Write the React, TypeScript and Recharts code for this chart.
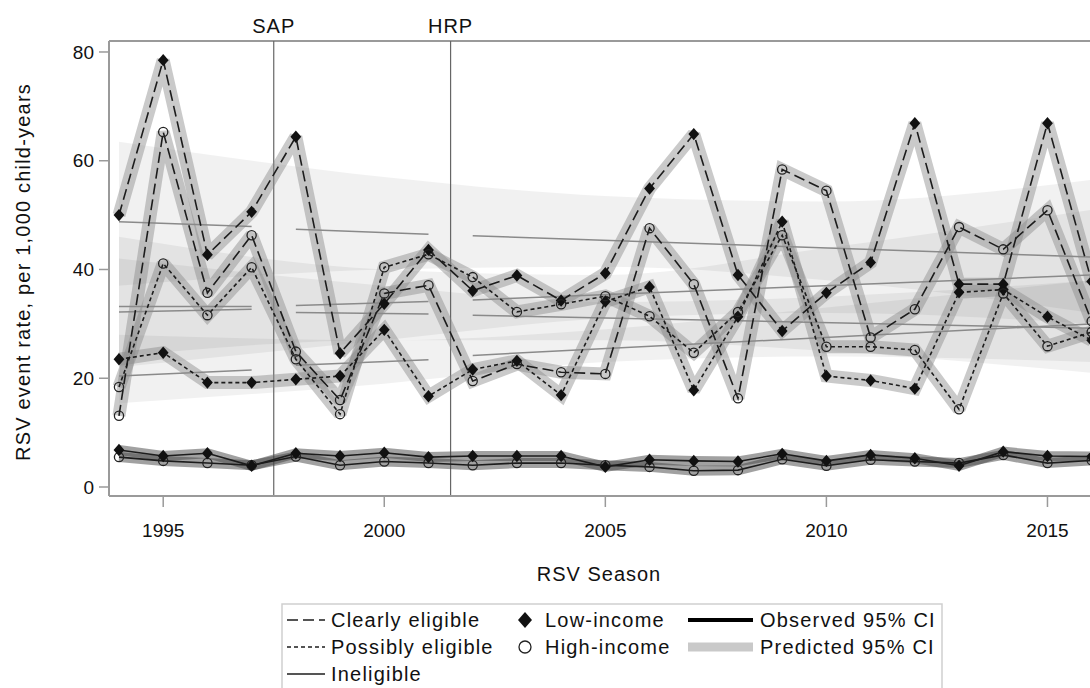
import React from 'react';
import { ComposedChart, Line, Area, XAxis, YAxis, ReferenceLine } from 'recharts';

// RSV seasons (x categories)
const seasons = [1994, 1995, 1996, 1997, 1998, 1999, 2000, 2001, 2002, 2003, 2004, 2005, 2006, 2007, 2008, 2009, 2010, 2011, 2012, 2013, 2014, 2015, 2016];

// Observed RSV event rates per 1,000 child-years
const clearlyLow = [50.0, 78.5, 42.7, 50.6, 64.4, 24.6, 33.7, 43.6, 36.1, 38.9, 34.3, 39.3, 54.9, 64.9, 39.0, 28.7, 35.7, 41.3, 66.9, 37.3, 37.3, 66.9, 37.8];
const clearlyHigh = [13.1, 65.3, 35.7, 46.3, 24.9, 16.0, 35.6, 37.1, 19.5, 22.6, 21.1, 20.8, 47.6, 37.3, 16.3, 58.4, 54.5, 27.5, 32.7, 47.8, 43.7, 50.9, 30.5];
const possiblyLow = [23.5, 24.7, 19.2, 19.2, 19.8, 20.4, 28.9, 16.7, 21.6, 23.2, 16.9, 34.1, 36.8, 17.8, 31.3, 48.8, 20.4, 19.6, 18.1, 35.8, 36.3, 31.3, 27.0];
const possiblyHigh = [18.4, 41.1, 31.6, 40.4, 23.5, 13.4, 40.4, 42.8, 38.6, 32.2, 33.6, 35.1, 31.4, 24.7, 32.2, 46.3, 25.8, 25.8, 25.2, 14.3, 35.6, 25.9, 28.5];
const ineligibleLow = [6.8, 5.7, 6.2, 3.9, 6.2, 5.7, 6.3, 5.5, 5.7, 5.7, 5.7, 3.7, 5.0, 4.8, 4.7, 6.1, 4.8, 5.9, 5.3, 3.9, 6.5, 5.7, 5.6];
const ineligibleHigh = [5.5, 4.8, 4.4, 4.0, 5.6, 4.0, 4.7, 4.4, 4.0, 4.4, 4.4, 4.0, 3.7, 3.0, 3.1, 5.1, 3.9, 5.0, 4.7, 4.4, 5.9, 4.4, 4.9];

// Predicted 95% CI envelopes (estimated at a few seasons)
const fanSeasons = [1994, 2000, 2005, 2010, 2016];
const upperFanLow = [37, 40, 40.5, 38, 32];
const upperFanHigh = [63.5, 57, 53.5, 52.5, 56.5];
const risingFanLow = [22, 27, 31, 32, 30];
const risingFanHigh = [46, 40, 39, 44, 51];
const flatFanLow = [24, 27, 27, 25, 21];
const flatFanHigh = [42, 37, 34, 35, 38];
const lowerFanLow = [15.4, 19, 23, 24, 23];
const lowerFanHigh = [28, 27, 29, 33, 38];

// Segmented predicted trends per period
const trendPeriods = [
  [1994, 1997],
  [1998, 2001],
  [2002, 2016],
];
const trendStart = [
  [48.8, 33.2, 32.2, 20.4],
  [47.4, 33.4, 32.1, 22.4],
  [46.2, 34.4, 31.6, 24.2],
];
const trendEnd = [
  [47.9, 33.2, 32.7, 21.5],
  [46.5, 34.1, 31.8, 23.4],
  [42.3, 39.0, 29.2, 30.0],
];

// Policy change markers
const policyLines = [
  { season: 1997.5, label: 'SAP' },
  { season: 2001.5, label: 'HRP' },
];

const xTicks = [1995, 2000, 2005, 2010, 2015];
const yTicks = [0, 20, 40, 60, 80];

const rows = seasons.map((year, i) => ({
  year,
  cl: clearlyLow[i],
  ch: clearlyHigh[i],
  pl: possiblyLow[i],
  ph: possiblyHigh[i],
  il: ineligibleLow[i],
  ih: ineligibleHigh[i],
}));

const makeFan = (lo: number[], hi: number[]) =>
  fanSeasons.map((year, i) => ({ year, range: [lo[i], hi[i]] }));

const fans = [
  makeFan(upperFanLow, upperFanHigh),
  makeFan(risingFanLow, risingFanHigh),
  makeFan(flatFanLow, flatFanHigh),
  makeFan(lowerFanLow, lowerFanHigh),
];

const FONT = '"Liberation Sans", Arial, sans-serif';
const INK = '#1c1c1c';
const AXIS = '#9a9a9a';

const DASH_CLEARLY = '11 5';
const DASH_POSSIBLY = '4 3';

const diamondDot = (props: any) => {
  const { cx, cy, index } = props;
  if (cx == null || cy == null) return <g key={`dd-${index}`} />;
  const h = 6.2;
  const w = 5.4;
  return (
    <path
      key={`dd-${index}`}
      d={`M${cx},${cy - h}L${cx + w},${cy}L${cx},${cy + h}L${cx - w},${cy}Z`}
      fill="#111"
    />
  );
};

const circleDot = (props: any) => {
  const { cx, cy, index } = props;
  if (cx == null || cy == null) return <g key={`cd-${index}`} />;
  return <circle key={`cd-${index}`} cx={cx} cy={cy} r={4.6} fill="none" stroke="#222" strokeWidth={1.3} />;
};

const seriesDefs = [
  { key: 'cl', dash: DASH_CLEARLY, dot: diamondDot, band: 'upper' },
  { key: 'ch', dash: DASH_CLEARLY, dot: circleDot, band: 'upper' },
  { key: 'pl', dash: DASH_POSSIBLY, dot: diamondDot, band: 'upper' },
  { key: 'ph', dash: DASH_POSSIBLY, dot: circleDot, band: 'upper' },
  { key: 'ih', dash: undefined, dot: circleDot, band: 'lower' },
  { key: 'il', dash: undefined, dot: diamondDot, band: 'lower' },
];

function Legend() {
  const rowY = [620, 647, 674];
  const txt = { fontFamily: FONT, fontSize: 20, letterSpacing: 1.2, fill: '#111' } as const;
  return (
    <svg
      width={1090}
      height={688}
      style={{ position: 'absolute', left: 0, top: 0, pointerEvents: 'none' }}
    >
      <rect x={282} y={604} width={660} height={110} fill="none" stroke="#cfcfcf" strokeWidth={1.5} />
      {/* line styles */}
      <line x1={287} x2={325} y1={rowY[0]} y2={rowY[0]} stroke={INK} strokeWidth={1.6} strokeDasharray={DASH_CLEARLY} />
      <text x={331} y={rowY[0] + 7} {...txt}>Clearly eligible</text>
      <line x1={287} x2={325} y1={rowY[1]} y2={rowY[1]} stroke={INK} strokeWidth={1.6} strokeDasharray={DASH_POSSIBLY} />
      <text x={331} y={rowY[1] + 7} {...txt}>Possibly eligible</text>
      <line x1={287} x2={325} y1={rowY[2]} y2={rowY[2]} stroke={INK} strokeWidth={1.6} />
      <text x={331} y={rowY[2] + 7} {...txt}>Ineligible</text>
      {/* income markers */}
      <path d={`M525,${rowY[0] - 8}L532,${rowY[0]}L525,${rowY[0] + 8}L518,${rowY[0]}Z`} fill="#111" />
      <text x={545} y={rowY[0] + 7} {...txt}>Low-income</text>
      <circle cx={525} cy={rowY[1]} r={6} fill="none" stroke="#222" strokeWidth={1.3} />
      <text x={545} y={rowY[1] + 7} {...txt}>High-income</text>
      {/* interval styles */}
      <line x1={688} x2={753} y1={rowY[0]} y2={rowY[0]} stroke="#000" strokeWidth={4} />
      <text x={760} y={rowY[0] + 7} {...txt}>Observed 95% CI</text>
      <line x1={688} x2={753} y1={rowY[1]} y2={rowY[1]} stroke="#c9c9c9" strokeWidth={9} />
      <text x={760} y={rowY[1] + 7} {...txt}>Predicted 95% CI</text>
      {/* axis titles */}
      <text x={599} y={581} textAnchor="middle" fontFamily={FONT} fontSize={20} letterSpacing={1} fill="#111">
        RSV Season
      </text>
      <text
        x={30}
        y={272}
        transform="rotate(-90 30 272)"
        textAnchor="middle"
        fontFamily={FONT}
        fontSize={20}
        letterSpacing={1.2}
        fill="#111"
      >
        RSV event rate, per 1,000 child-years
      </text>
    </svg>
  );
}

export default function App() {
  const Y_MIN = -1.655;
  const Y_MAX = 82.02;
  return (
    <div
      style={{
        position: 'absolute',
        left: 0,
        top: 0,
        width: 1090,
        height: 688,
        overflow: 'hidden',
        background: '#fff',
      }}
    >
      <ComposedChart
        width={1158}
        height={688}
        data={rows}
        margin={{ top: 41, right: 0, bottom: 0, left: 0 }}
      >
        <XAxis
          type="number"
          dataKey="year"
          domain={[1993.774, 2017.5]}
          allowDataOverflow
          ticks={xTicks}
          height={192}
          tickSize={11}
          tickMargin={17}
          axisLine={{ stroke: AXIS, strokeWidth: 2 }}
          tickLine={{ stroke: AXIS, strokeWidth: 1.5 }}
          tick={{ fontFamily: FONT, fontSize: 19, fill: '#111' }}
        />
        <YAxis
          type="number"
          domain={[Y_MIN, Y_MAX]}
          allowDataOverflow
          ticks={yTicks}
          width={109}
          tickSize={10}
          tickMargin={5}
          axisLine={{ stroke: AXIS, strokeWidth: 2 }}
          tickLine={{ stroke: AXIS, strokeWidth: 1.5 }}
          tick={{ fontFamily: FONT, fontSize: 19, fill: '#111' }}
        />

        {/* predicted confidence envelopes */}
        {fans.map((fan, i) => (
          <Area
            key={`fan-${i}`}
            data={fan}
            dataKey="range"
            type="monotone"
            stroke="none"
            fill="#000"
            fillOpacity={0.055}
            isAnimationActive={false}
            activeDot={false}
          />
        ))}

        {/* frame top */}
        <ReferenceLine y={Y_MAX} stroke={AXIS} strokeWidth={2} ifOverflow="visible" />

        {/* policy markers */}
        {policyLines.map((p) => (
          <ReferenceLine
            key={p.label}
            x={p.season}
            stroke="#666"
            strokeWidth={1.2}
            label={{ value: p.label, position: 'top', offset: 8, fontFamily: FONT, fontSize: 20, fill: '#111', letterSpacing: 1 } as any}
          />
        ))}

        {/* segmented predicted trends */}
        {trendPeriods.flatMap(([s, e], p) =>
          trendStart[p].map((v, k) => (
            <ReferenceLine
              key={`trend-${p}-${k}`}
              segment={[
                { x: s, y: v },
                { x: e, y: trendEnd[p][k] },
              ]}
              stroke="#8a8a8a"
              strokeWidth={1.5}
              ifOverflow="visible"
            />
          ))
        )}

        {/* interval bands around observed series */}
        {seriesDefs.map((s) => (
          <Line
            key={`band-${s.key}`}
            dataKey={s.key}
            stroke={s.band === 'upper' ? '#8a8a8a' : '#444'}
            strokeOpacity={s.band === 'upper' ? 0.45 : 0.5}
            strokeWidth={s.band === 'upper' ? 13 : 10}
            strokeLinejoin="miter"
            strokeMiterlimit={1.8}
            dot={false}
            activeDot={false}
            isAnimationActive={false}
          />
        ))}

        {/* observed series */}
        {seriesDefs.map((s) => (
          <Line
            key={`line-${s.key}`}
            dataKey={s.key}
            stroke={INK}
            strokeWidth={1.6}
            strokeDasharray={s.dash}
            dot={s.dot}
            activeDot={false}
            isAnimationActive={false}
          />
        ))}
      </ComposedChart>
      <Legend />
    </div>
  );
}
